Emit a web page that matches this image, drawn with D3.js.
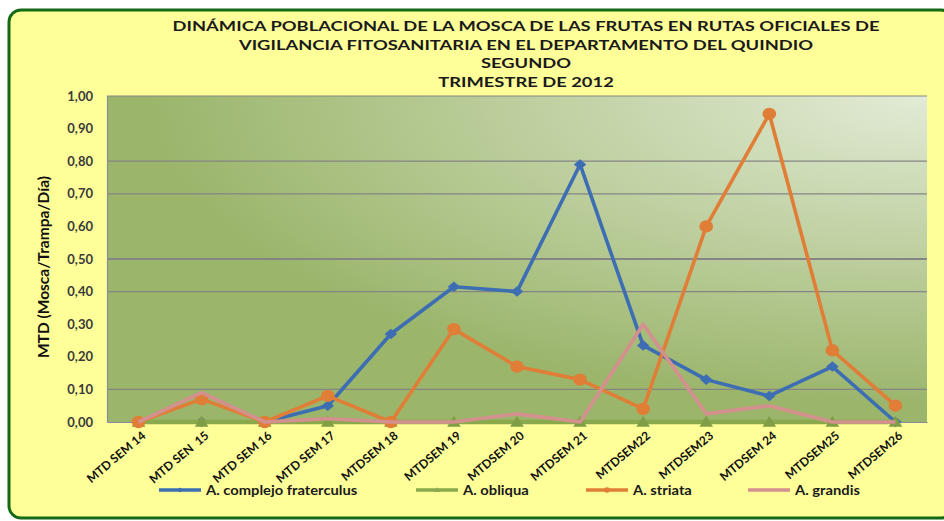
<!DOCTYPE html>
<html>
<head>
<meta charset="utf-8">
<script src="https://cdn.jsdelivr.net/npm/d3@7"></script>
<style>
  body { margin: 0; background: #fff; }
  svg { display: block; }
  text { font-family: Lato, "Open Sans", sans-serif; }
</style>
</head>
<body>
<svg id="chart" width="944" height="521"></svg>
<script>
var categories = ["MTD SEM 14", "MTD SEN  15", "MTD SEM 16", "MTD SEM 17", "MTDSEM 18", "MTDSEM 19",
  "MTDSEM 20", "MTDSEM 21", "MTDSEM22", "MTDSEM23", "MTDSEM 24", "MTDSEM25", "MTDSEM26"];
var fraterculus = [0, 0, 0, 0.05, 0.27, 0.415, 0.40, 0.79, 0.235, 0.13, 0.08, 0.17, 0];
var obliqua = [0, 0, 0, 0, 0, 0, 0, 0, 0, 0, 0, 0, 0];
var striata = [0, 0.07, 0, 0.08, 0, 0.285, 0.17, 0.13, 0.04, 0.60, 0.945, 0.22, 0.05];
var grandis = [0, 0.09, 0, 0.01, 0, 0, 0.025, 0, 0.30, 0.025, 0.05, 0, 0];
var yTicks = [0, 0.1, 0.2, 0.3, 0.4, 0.5, 0.6, 0.7, 0.8, 0.9, 1.0];
var gridValues = [0.1, 0.4, 0.5, 0.7, 0.8, 1.0];
var titleLines = ["DINÁMICA POBLACIONAL DE LA MOSCA DE LAS FRUTAS EN RUTAS OFICIALES DE",
  "VIGILANCIA FITOSANITARIA EN EL DEPARTAMENTO DEL QUINDIO", "SEGUNDO", "TRIMESTRE DE 2012"];

var series = [
  { name: "A. complejo fraterculus", values: fraterculus, color: "#3D6EB3", marker: "diamond", legendX: 159 },
  { name: "A. obliqua", values: obliqua, color: "#8AA84C", marker: "triangle", legendX: 416 },
  { name: "A. striata", values: striata, color: "#E07E37", marker: "circle", legendX: 586 },
  { name: "A. grandis", values: grandis, color: "#D4908E", marker: "none", legendX: 748 }
];

var svg = d3.select("#chart"),
  plotLeft = 107, plotRight = 927, plotTop = 96, plotBottom = 422;

// chart box
svg.append("rect")
  .attr("x", 9).attr("y", 10)
  .attr("width", 944).attr("height", 508)
  .attr("rx", 12)
  .attr("fill", "#FFFF99")
  .attr("stroke", "#146B14")
  .attr("stroke-width", 3);

var defs = svg.append("defs");
var grad = defs.append("radialGradient")
  .attr("id", "plotBg")
  .attr("cx", 1).attr("cy", 0).attr("r", 1.0)
  .attr("fx", 1).attr("fy", 0);
grad.append("stop").attr("offset", 0).attr("stop-color", "#E2EBD6");
grad.append("stop").attr("offset", 0.95).attr("stop-color", "#9BB56B");

var xScale = d3.scaleBand().domain(categories).range([plotLeft, plotRight]),
  yScale = d3.scaleLinear().domain([0, 1]).range([plotBottom, plotTop]);

function cx(i) { return xScale(categories[i]) + xScale.bandwidth() / 2; }

svg.append("rect")
  .attr("x", plotLeft).attr("y", plotTop)
  .attr("width", plotRight - plotLeft).attr("height", plotBottom - plotTop)
  .attr("fill", "url(#plotBg)");

// gridlines
svg.append("g")
  .selectAll("line")
  .data(gridValues)
  .enter().append("line")
  .attr("x1", plotLeft).attr("x2", plotRight)
  .attr("y1", function(d) { return yScale(d); })
  .attr("y2", function(d) { return yScale(d); })
  .attr("stroke", "#858585")
  .attr("stroke-width", function(d) { return d === 0.5 ? 2 : 1.2; });

// y axis
var yAxis = svg.append("g")
  .attr("transform", "translate(" + plotLeft + ",0)")
  .call(d3.axisLeft(yScale).tickValues(yTicks).tickSize(0).tickPadding(14)
    .tickFormat(function(d) { return d3.format(".2f")(d).replace(".", ","); }));
yAxis.select(".domain").attr("stroke", "#8a8aa0").attr("stroke-width", 1.2);
yAxis.selectAll("text")
  .attr("font-size", 13).attr("font-weight", "bold")
  .attr("fill", "#3a3a3a")
  .attr("font-family", "Lato, sans-serif");

// x axis
var xAxis = svg.append("g")
  .attr("transform", "translate(0," + plotBottom + ")")
  .call(d3.axisBottom(xScale).tickSize(0).tickPadding(0));
xAxis.select(".domain").attr("stroke", "#8a8aa0").attr("stroke-width", 1);
xAxis.selectAll("text")
  .attr("font-size", 12).attr("font-weight", "bold")
  .attr("fill", "#111")
  .attr("font-family", "Lato, sans-serif")
  .style("white-space", "pre")
  .attr("text-anchor", "end")
  .attr("dy", 0).attr("y", 0)
  .attr("transform", "translate(8,15) rotate(-40)");

// series lines and markers
var line = d3.line()
  .x(function(d, i) { return cx(i); })
  .y(function(d) { return yScale(d); });

function drawMarker(g, type, x, y, color, s) {
  if (type === "diamond") {
    g.append("path")
      .attr("d", "M" + x + "," + (y - s * 0.85) + "L" + (x + s) + "," + y + "L" + x + "," + (y + s * 0.85) + "L" + (x - s) + "," + y + "Z")
      .attr("fill", color);
  } else if (type === "triangle") {
    g.append("path")
      .attr("d", "M" + x + "," + (y - s) + "L" + (x + s * 1.1) + "," + (y + s * 0.75) + "L" + (x - s * 1.1) + "," + (y + s * 0.75) + "Z")
      .attr("fill", color);
  } else if (type === "circle") {
    g.append("ellipse")
      .attr("cx", x).attr("cy", y)
      .attr("rx", s * 1.1).attr("ry", s)
      .attr("fill", color);
  }
}

series.forEach(function(s) {
  var g = svg.append("g");
  g.append("path")
    .datum(s.values)
    .attr("d", line)
    .attr("fill", "none")
    .attr("stroke", s.color)
    .attr("stroke-width", s.marker === "triangle" ? 4.5 : 3.6)
    .attr("stroke-linejoin", "round");
  var mColor = s.marker === "triangle" ? "#7F9E45" : s.color;
  s.values.forEach(function(v, i) {
    drawMarker(g, s.marker, cx(i), yScale(v), mColor, 6.2);
  });
});

// title (Calibri-like wide rendering, stretched horizontally)
svg.append("g")
  .attr("transform", "translate(526,0) scale(1.36,1)")
  .selectAll("text")
  .data(titleLines)
  .enter().append("text")
  .attr("x", 0)
  .attr("y", function(d, i) { return 31 + i * 18.7; })
  .attr("text-anchor", "middle")
  .attr("font-size", 13.5)
  .attr("font-weight", "bold")
  .attr("fill", "#1a1a1a")
  .text(function(d) { return d; });

// y axis title
svg.append("text")
  .attr("transform", "translate(49,267) rotate(-90)")
  .attr("text-anchor", "middle")
  .attr("font-size", 15.5)
  .attr("font-weight", "bold")
  .attr("fill", "#111")
  .text("MTD (Mosca/Trampa/Día)");

// legend
var legend = svg.append("g");
series.forEach(function(s) {
  var ly = 490;
  legend.append("line")
    .attr("x1", s.legendX).attr("x2", s.legendX + 42)
    .attr("y1", ly).attr("y2", ly)
    .attr("stroke", s.color).attr("stroke-width", 3.6);
  drawMarker(legend, s.marker, s.legendX + 21, ly, s.color, 2.8);
  legend.append("text")
    .attr("transform", "translate(" + (s.legendX + 47) + "," + (ly + 4.5) + ") scale(1.18,1)")
    .attr("font-size", 12.5)
    .attr("font-weight", "bold")
    .attr("fill", "#1a1a1a")
    .text(s.name);
});
</script>
</body>
</html>
